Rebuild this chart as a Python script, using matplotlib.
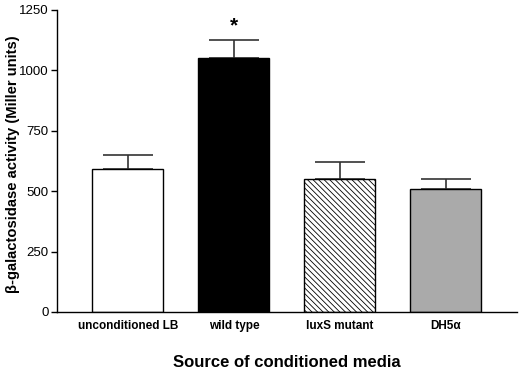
import matplotlib
matplotlib.use("Agg")
import matplotlib.pyplot as plt

categories = ["unconditioned LB", "wild type", "luxS mutant", "DH5α"]
values = [592, 1052, 550, 509]
errors = [58, 74, 70, 41]
facecolors = ["white", "black", "white", "#aaaaaa"]
hatches = [None, None, "\\\\\\\\\\\\", None]
yticks = [0, 250, 500, 750, 1000, 1250]

plt.rcParams['font.family'] = ['Liberation Sans', 'DejaVu Sans']
plt.rcParams['hatch.linewidth'] = 0.6

fig = plt.figure(figsize=(5.26, 3.69), dpi=100)
ax = fig.add_axes([57/526, 1-312/369, 460/526, 302/369])

x = list(range(len(categories)))
for i in x:
    ax.bar(i, values[i], width=0.67, color=facecolors[i], edgecolor="black",
           linewidth=1.0, hatch=hatches[i], zorder=2)
ax.errorbar(x, values, yerr=[[0]*len(errors), errors], fmt="none", ecolor="#333333",
            elinewidth=1.2, capsize=18, capthick=1.2, zorder=1)
ax.text(1, values[1] + errors[1] + 60, "*", ha="center", va="center",
        fontsize=15, fontweight="bold")

ax.set_xlim(-0.668, 3.67)
ax.set_ylim(0, 1250)
ax.set_yticks(yticks)
ax.set_yticklabels([str(t) for t in yticks], fontsize=9.5)
ax.set_xticks(x)
ax.set_xticklabels(categories, fontsize=8.5, fontweight="bold")
ax.tick_params(axis="x", length=0, pad=6)
ax.tick_params(axis="y", length=4, width=1, pad=2)
for s in ["top", "right"]:
    ax.spines[s].set_visible(False)
for s in ["left", "bottom"]:
    ax.spines[s].set_linewidth(1.0)

ax.set_ylabel("β-galactosidase activity (Miller units)", fontsize=10.6, fontweight="bold")
ax.yaxis.set_label_coords(-0.080, 0.49)
ax.set_xlabel("Source of conditioned media", fontsize=12, fontweight="bold", labelpad=16)

fig.savefig("out.png", dpi=100)
